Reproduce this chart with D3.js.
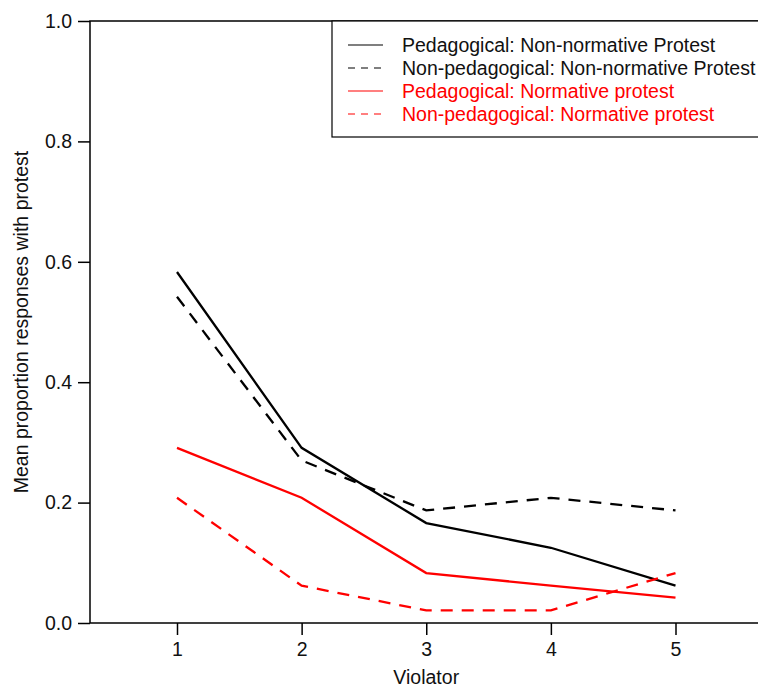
<!DOCTYPE html>
<html>
<head>
<meta charset="utf-8">
<script src="https://cdn.jsdelivr.net/npm/d3@7"></script>
<style>
  body { margin: 0; background: #fff; }
  svg { display: block; font-family: "Liberation Sans", Arial, sans-serif; }
</style>
</head>
<body>
<div id="chart"></div>
<script>
// data
const violators = [1, 2, 3, 4, 5];
const pedNonNormative = [0.583, 0.291, 0.166, 0.125, 0.062];
const nonPedNonNormative = [0.542, 0.270, 0.187, 0.208, 0.187];
const pedNormative = [0.291, 0.208, 0.083, 0.062, 0.042];
const nonPedNormative = [0.208, 0.062, 0.021, 0.021, 0.083];
const yTicks = [0, 0.2, 0.4, 0.6, 0.8, 1.0];

const seriesNames = [
  "Pedagogical: Non-normative Protest",
  "Non-pedagogical: Non-normative Protest",
  "Pedagogical: Normative protest",
  "Non-pedagogical: Normative protest"
];
const seriesValues = [pedNonNormative, nonPedNonNormative, pedNormative, nonPedNormative];
const seriesColors = ["#000", "#000", "#ff0000", "#ff0000"];
const seriesDashed = [false, true, false, true];

const W = 758, H = 687;
const FS = "19.5px";
const frame = { left: 90, top: 21, bottom: 623, right: 800 };

const svg = d3.select("#chart").append("svg")
  .attr("width", W)
  .attr("height", H);

const x = d3.scaleLinear().domain([1, 5]).range([177, 675.5]);
const y = d3.scaleLinear().domain([0, 1]).range([frame.bottom, frame.top]);

// box
svg.append("rect")
  .attr("x", frame.left)
  .attr("y", frame.top)
  .attr("width", frame.right - frame.left)
  .attr("height", frame.bottom - frame.top)
  .attr("fill", "none")
  .attr("stroke", "#000")
  .attr("stroke-width", 1.5);

// axes
const yAxis = d3.axisLeft(y)
  .tickValues(yTicks)
  .tickFormat(d3.format(".1f"))
  .tickSize(12)
  .tickPadding(6);
const gy = svg.append("g")
  .attr("transform", `translate(${frame.left},0)`)
  .call(yAxis);

const xAxis = d3.axisBottom(x)
  .tickValues(violators)
  .tickFormat(d3.format("d"))
  .tickSize(12)
  .tickPadding(7);
const gx = svg.append("g")
  .attr("transform", `translate(0,${frame.bottom})`)
  .call(xAxis);

[gx, gy].forEach(g => {
  g.select(".domain").remove();
  g.selectAll(".tick line").attr("stroke", "#000").attr("stroke-width", 1.5);
  g.selectAll(".tick text")
    .attr("fill", "#111")
    .style("font-size", FS)
    .style("font-family", "'Liberation Sans', Arial, sans-serif");
});

// axis titles
svg.append("text")
  .attr("x", x(3))
  .attr("y", 684)
  .attr("text-anchor", "middle")
  .style("font-size", FS)
  .attr("fill", "#111")
  .text("Violator");

svg.append("text")
  .attr("transform", `translate(28,${(frame.top + frame.bottom) / 2}) rotate(-90)`)
  .attr("text-anchor", "middle")
  .style("font-size", FS)
  .attr("fill", "#111")
  .text("Mean proportion responses with protest");

// lines
const line = d3.line()
  .x((d, i) => x(violators[i]))
  .y(d => y(d));

seriesValues.forEach((vals, i) => {
  svg.append("path")
    .datum(vals)
    .attr("d", line)
    .attr("fill", "none")
    .attr("stroke", seriesColors[i])
    .attr("stroke-width", 2.3)
    .attr("stroke-dasharray", seriesDashed[i] ? "12,9" : null);
});

// legend
const lg = svg.append("g");
lg.append("rect")
  .attr("x", 332)
  .attr("y", frame.top)
  .attr("width", 500)
  .attr("height", 137 - frame.top)
  .attr("fill", "#fff")
  .attr("stroke", "#000")
  .attr("stroke-width", 1.2);

seriesNames.forEach((name, i) => {
  const ry = 45 + i * 23;
  lg.append("line")
    .attr("x1", 348).attr("x2", 383)
    .attr("y1", ry).attr("y2", ry)
    .attr("stroke", seriesColors[i])
    .attr("stroke-width", 1.2)
    .attr("stroke-dasharray", seriesDashed[i] ? "7,6" : null);
  lg.append("text")
    .attr("x", 402)
    .attr("y", ry)
    .attr("dy", "0.35em")
    .style("font-size", FS)
    .attr("fill", seriesColors[i] === "#000" ? "#111" : seriesColors[i])
    .text(name);
});
</script>
</body>
</html>
